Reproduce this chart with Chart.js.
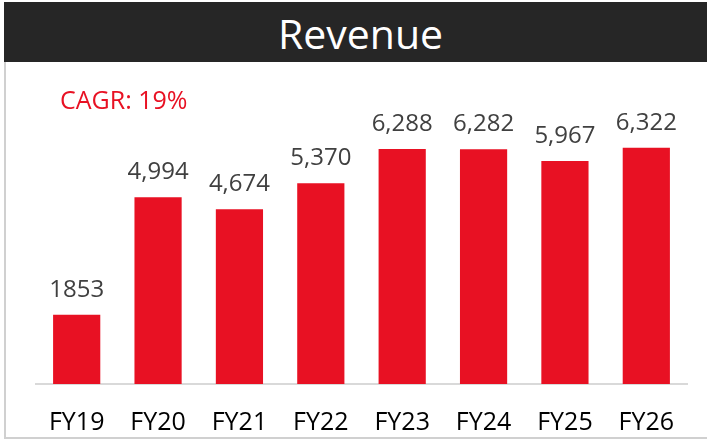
<!DOCTYPE html>
<html>
<head>
<meta charset="utf-8">
<script src="https://cdn.jsdelivr.net/npm/chart.js@4.4.0/dist/chart.umd.min.js"></script>
<style>
  body { margin: 0; background: #fff; font-family: "Open Sans", sans-serif; overflow: hidden; }
  #wrap { position: absolute; left: 0; top: 0; width: 707px; height: 441px; overflow: hidden; }
  #head {
    position: absolute; left: 4px; top: 2px; width: 693px; height: 60px; padding-left: 10px;
    background: #262626; color: #fff; font-size: 41px; text-align: center; line-height: 62px;
  }
  #box {
    position: absolute; left: 4px; top: 62px; width: 705px; height: 375px;
    border-left: 2px solid #d0d0d0; border-bottom: 2px solid #d0d0d0;
  }
  #cv { position: absolute; left: 6px; top: 64px; }
</style>
</head>
<body>
<div id="wrap">
  <div id="head">Revenue</div>
  <div id="box"></div>
  <canvas id="cv" width="701" height="398"></canvas>
</div>
<script>
const years = ["FY19", "FY20", "FY21", "FY22", "FY23", "FY24", "FY25", "FY26"];
const revenue = [1853, 4994, 4674, 5370, 6288, 6282, 5967, 6322];
const revenueLabels = ["1853", "4,994", "4,674", "5,370", "6,288", "6,282", "5,967", "6,322"];
const cagrText = "CAGR: 19%";

// value labels above bars + CAGR note
const labelPlugin = {
  id: "labels",
  afterDatasetsDraw(chart) {
    const ctx = chart.ctx;
    const meta = chart.getDatasetMeta(0);
    ctx.save();
    ctx.font = '24px "Open Sans"';
    ctx.fillStyle = "#404040";
    ctx.textAlign = "center";
    ctx.textBaseline = "alphabetic";
    meta.data.forEach((bar, i) => {
      ctx.fillText(revenueLabels[i], bar.x, bar.y - 18);
    });
    ctx.font = '25px "Open Sans"';
    ctx.fillStyle = "#e81123";
    ctx.textAlign = "left";
    ctx.fillText(cagrText, 54, 45);
    ctx.restore();
  }
};

new Chart(document.getElementById("cv").getContext("2d"), {
  type: "bar",
  data: {
    labels: years,
    datasets: [
      {
        data: revenue,
        backgroundColor: "#e81123",
        categoryPercentage: 1,
        barPercentage: 0.58,
      },
    ],
  },
  options: {
    responsive: false,
    animation: false,
    layout: { padding: { left: 30, right: 20, top: 21, bottom: 0 } },
    plugins: { legend: { display: false }, tooltip: { enabled: false } },
    scales: {
      y: { display: false, min: 0, max: 8000 },
      x: {
        grid: { display: false, drawTicks: false },
        border: { color: "#d9d9d9", width: 2 },
        ticks: { color: "#000", font: { family: "Open Sans", size: 25 }, padding: 24 },
      },
    },
  },
  plugins: [labelPlugin],
});
</script>
</body>
</html>
